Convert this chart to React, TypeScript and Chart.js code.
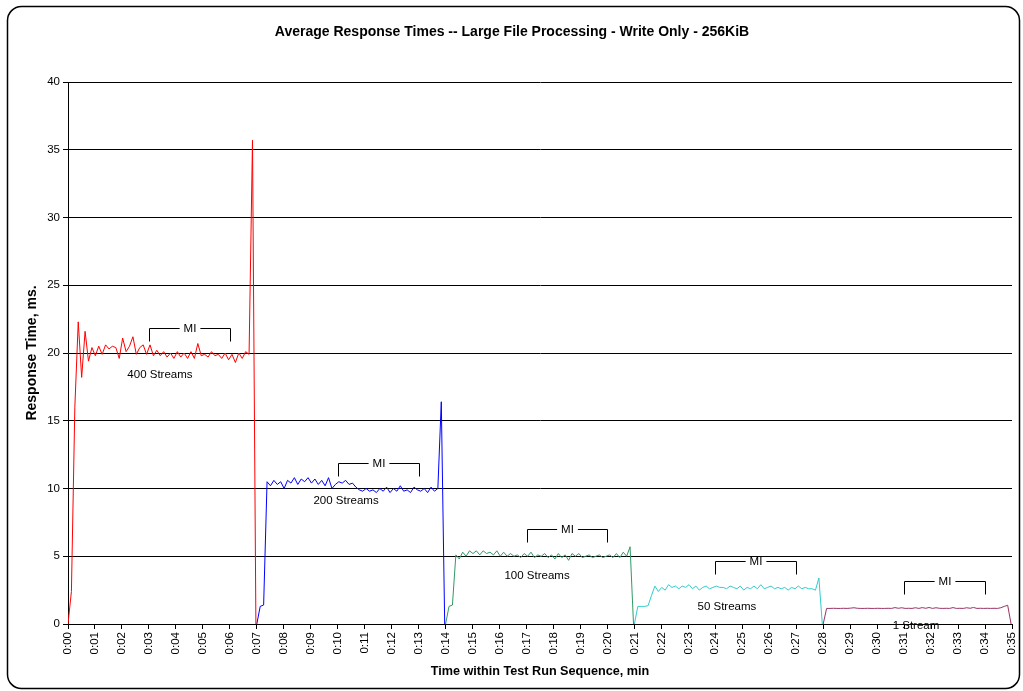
import { useEffect, useRef } from "react";
import { Chart, registerables } from "chart.js";

Chart.register(...registerables);

const TITLE = "Average Response Times -- Large File Processing - Write Only - 256KiB";
const X_TITLE = "Time within Test Run Sequence, min";
const Y_TITLE = "Response Time, ms.";

const SAMPLE_SECONDS = 7.6;
const SEGMENT_START_MIN = [0, 7, 14, 21, 28];
const SERIES_NAMES = ["400 Streams", "200 Streams", "100 Streams", "50 Streams", "1 Stream"];
const SERIES_COLORS = ["#FF0000", "#0000FF", "#339966", "#33CCCC", "#993366"];

const streams400 = [
  0, 2.4, 16.0, 22.3, 18.2, 21.6, 19.4, 20.4, 19.8, 20.5, 19.9, 20.6, 20.3, 20.5, 20.4, 19.6,
  21.1, 20.1, 20.5, 21.2, 19.9, 20.4, 20.6, 19.9, 20.6, 19.8, 20.2, 19.8, 20.1, 19.7, 20.0,
  19.6, 20.1, 19.7, 20.0, 19.6, 20.1, 19.6, 20.7, 19.8, 19.9, 19.7, 20.1, 19.8, 19.9, 19.6,
  20.0, 19.5, 19.9, 19.3, 20.0, 19.6, 20.1, 19.9, 35.7, 0,
];
const streams200 = [
  0, 1.3, 1.4, 10.5, 10.2, 10.6, 10.3, 10.5, 10.0, 10.6, 10.4, 10.8, 10.3, 10.7, 10.5, 10.8,
  10.4, 10.7, 10.3, 10.6, 10.2, 10.8, 10.0, 10.3, 10.5, 10.4, 10.6, 10.3, 10.4, 10.1, 9.9,
  9.8, 10.0, 9.8, 9.9, 9.7, 10.0, 9.8, 10.1, 9.7, 10.0, 9.8, 10.2, 9.8, 9.9, 9.7, 10.1, 9.9,
  9.8, 10.0, 9.7, 10.1, 9.8, 10.0, 16.4, 0,
];
const streams100 = [
  0, 1.3, 1.4, 5.1, 4.8, 5.3, 5.0, 5.4, 5.2, 5.4, 5.1, 5.4, 5.2, 5.3, 5.1, 5.4, 5.0, 5.3,
  5.0, 5.2, 5.0, 5.1, 4.9, 5.2, 5.0, 5.3, 4.9, 5.1, 5.0, 5.2, 4.9, 5.1, 4.8, 5.2, 4.9, 5.1,
  4.7, 5.2, 5.0, 5.2, 4.9, 5.0, 5.1, 4.9, 5.0, 5.1, 4.9, 5.0, 5.1, 4.9, 5.2, 4.9, 5.3, 5.0,
  5.7, 0,
];
const streams50 = [
  0, 1.3, 1.3, 1.3, 1.35, 2.1, 2.8, 2.4, 2.7, 2.5, 2.9, 2.7, 2.8, 2.6, 2.8, 2.7, 2.9, 2.6,
  2.8, 2.5, 2.7, 2.8, 2.6, 2.7, 2.8, 2.7, 2.7, 2.6, 2.8, 2.7, 2.6, 2.8, 2.5, 2.7, 2.6, 2.8,
  2.6, 2.9, 2.6, 2.7, 2.8, 2.6, 2.7, 2.6, 2.7, 2.5, 2.7, 2.6, 2.8, 2.6, 2.7, 2.6, 2.6, 2.5,
  3.4, 0,
];
const streams1 = [
  0, 1.15, 1.15, 1.16, 1.15, 1.15, 1.16, 1.15, 1.17, 1.2, 1.16, 1.15, 1.15, 1.16, 1.15, 1.15,
  1.16, 1.15, 1.15, 1.16, 1.15, 1.21, 1.16, 1.2, 1.15, 1.16, 1.15, 1.2, 1.15, 1.21, 1.16,
  1.22, 1.15, 1.2, 1.16, 1.15, 1.16, 1.15, 1.21, 1.15, 1.16, 1.15, 1.2, 1.16, 1.22, 1.15,
  1.16, 1.15, 1.16, 1.15, 1.16, 1.15, 1.2, 1.3, 1.38, 0,
];
const SERIES_VALUES = [streams400, streams200, streams100, streams50, streams1];

const MI_START_MIN = [3, 10, 17, 24, 31];
const MI_END_MIN = [6, 13, 20, 27, 34];
const MI_LEVEL = [21.85, 11.88, 7.01, 4.65, 3.17];
const LABEL_MIN = [3.41, 10.31, 17.39, 24.43, 31.44];
const LABEL_LEVEL = [18.38, 9.08, 3.54, 1.25, -0.15];

const X_MAX_MIN = 35;
const Y_MAX = 40;
const Y_STEP = 5;

const FONT = "'Liberation Sans', Arial, sans-serif";

const W = 1023;
const H = 691;

const framePlugin = {
  id: "frame",
  beforeDraw(chart: any) {
    const ctx = chart.ctx;
    ctx.save();
    ctx.fillStyle = "#fff";
    ctx.fillRect(0, 0, W, H);
    const x0 = 7.5, y0 = 6.5, x1 = 1019.5, y1 = 688.5, r = 14;
    ctx.beginPath();
    ctx.moveTo(x0 + r, y0);
    ctx.lineTo(x1 - r, y0);
    ctx.arcTo(x1, y0, x1, y0 + r, r);
    ctx.lineTo(x1, y1 - r);
    ctx.arcTo(x1, y1, x1 - r, y1, r);
    ctx.lineTo(x0 + r, y1);
    ctx.arcTo(x0, y1, x0, y1 - r, r);
    ctx.lineTo(x0, y0 + r);
    ctx.arcTo(x0, y0, x0 + r, y0, r);
    ctx.closePath();
    ctx.lineWidth = 1.5;
    ctx.strokeStyle = "#000";
    ctx.stroke();
    ctx.fillStyle = "#000";
    ctx.font = `bold 14px ${FONT}`;
    ctx.textAlign = "center";
    ctx.textBaseline = "middle";
    ctx.fillText(TITLE, 512, 32);
    ctx.restore();
  },
};

const annotationPlugin = {
  id: "annotations",
  afterDatasetsDraw(chart: any) {
    const ctx = chart.ctx;
    const xs = chart.scales.x;
    const ys = chart.scales.y;
    ctx.save();
    ctx.font = `11.5px ${FONT}`;
    ctx.fillStyle = "#000";
    ctx.strokeStyle = "#000";
    ctx.lineWidth = 1;
    ctx.textBaseline = "middle";
    ctx.textAlign = "center";
    for (let i = 0; i < MI_START_MIN.length; i++) {
      const xa = Math.round(xs.getPixelForValue(MI_START_MIN[i] * 60)) + 0.5;
      const xb = Math.round(xs.getPixelForValue(MI_END_MIN[i] * 60)) + 0.5;
      const y = Math.round(ys.getPixelForValue(MI_LEVEL[i])) + 0.5;
      const xm = (xa + xb) / 2;
      const tw = ctx.measureText("MI").width;
      const gap = tw / 2 + 4;
      ctx.beginPath();
      ctx.moveTo(xa, y + 13);
      ctx.lineTo(xa, y);
      ctx.lineTo(xm - gap, y);
      ctx.moveTo(xm + gap, y);
      ctx.lineTo(xb, y);
      ctx.lineTo(xb, y + 13);
      ctx.stroke();
      ctx.fillText("MI", xm, y);
      ctx.fillText(
        SERIES_NAMES[i],
        xs.getPixelForValue(LABEL_MIN[i] * 60),
        ys.getPixelForValue(LABEL_LEVEL[i])
      );
    }
    ctx.restore();
  },
};

export default function App() {
  const ref = useRef<HTMLCanvasElement | null>(null);

  useEffect(() => {
    if (!ref.current) return;
    const datasets = SERIES_VALUES.map((vals, s) => ({
      label: SERIES_NAMES[s],
      data: vals.map((v, i) => ({ x: SEGMENT_START_MIN[s] * 60 + i * SAMPLE_SECONDS, y: v })),
      borderColor: SERIES_COLORS[s],
      backgroundColor: SERIES_COLORS[s],
      borderWidth: 1,
      pointRadius: 0,
      tension: 0,
      fill: false,
    }));
    const chart = new Chart(ref.current, {
      type: "line",
      data: { datasets },
      options: {
        animation: false,
        responsive: false,
        maintainAspectRatio: false,
        layout: { padding: { top: 82, right: 11, bottom: 0, left: 0 } },
        plugins: {
          legend: { display: false },
          tooltip: { enabled: false },
          title: { display: false },
        },
        scales: {
          x: {
            type: "linear",
            min: 0,
            max: X_MAX_MIN * 60,
            afterFit: (s: any) => {
              s.height = 67;
              s.paddingLeft = 0;
              s.paddingRight = 0;
            },
            ticks: {
              stepSize: 60,
              autoSkip: false,
              maxRotation: 90,
              minRotation: 90,
              color: "#000",
              padding: 3,
              font: { family: FONT, size: 11.5 },
              callback: (v: any) => "0:" + String(Math.round(Number(v) / 60)).padStart(2, "0"),
            },
            grid: {
              display: true,
              drawOnChartArea: false,
              drawTicks: true,
              tickLength: 5,
              color: "#000",
            },
            border: { display: true, color: "#000", width: 1 },
            title: {
              display: true,
              text: X_TITLE,
              color: "#000",
              font: { family: FONT, size: 12.65, weight: "bold" },
              padding: { top: 0, bottom: 12 },
            },
          },
          y: {
            type: "linear",
            min: 0,
            max: Y_MAX,
            afterFit: (s: any) => {
              s.width = 68;
              s.paddingTop = 0;
              s.paddingBottom = 0;
            },
            ticks: {
              stepSize: Y_STEP,
              color: "#000",
              padding: 3,
              font: { family: FONT, size: 11.5 },
            },
            grid: {
              display: true,
              drawTicks: true,
              tickLength: 5,
              color: "#000",
            },
            border: { display: true, color: "#000", width: 1 },
            title: {
              display: true,
              text: Y_TITLE,
              color: "#000",
              font: { family: FONT, size: 14, weight: "bold" },
              padding: { top: 24, bottom: 0 },
            },
          },
        },
      },
      plugins: [framePlugin, annotationPlugin],
    });
    return () => chart.destroy();
  }, []);

  return (
    <div style={{ position: "fixed", left: 0, top: 0, width: W, height: H, background: "#fff" }}>
      <canvas ref={ref} width={W} height={H} style={{ display: "block", width: W, height: H }} />
    </div>
  );
}
